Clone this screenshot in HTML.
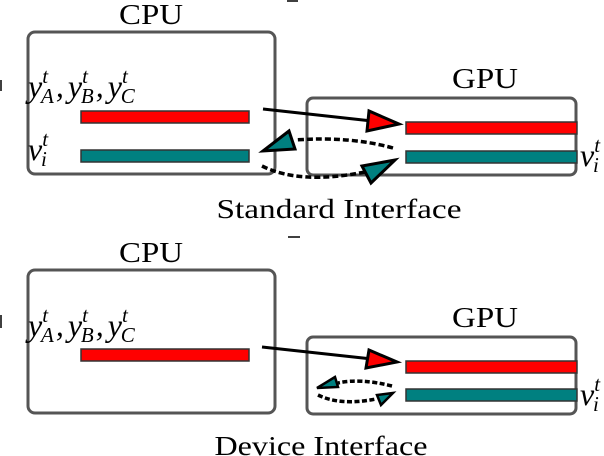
<!DOCTYPE html>
<html><head><meta charset="utf-8"><style>
html,body{margin:0;padding:0;background:#fff;width:604px;height:456px;overflow:hidden}
svg{display:block}
text{font-family:"Liberation Serif",serif;fill:#000}
.m{font-style:italic}
</style></head><body>
<svg width="604" height="456" viewBox="0 0 604 456" xmlns="http://www.w3.org/2000/svg">
<line x1="287" y1="1" x2="298" y2="1" stroke="#000" stroke-width="1.5"/>
<line x1="288" y1="237" x2="300" y2="237" stroke="#000" stroke-width="1.5"/>
<line x1="1" y1="80" x2="1" y2="91" stroke="#000" stroke-width="1.5"/>
<line x1="1" y1="315" x2="1" y2="328" stroke="#000" stroke-width="1.5"/>

<!-- TOP -->
<text x="151" y="24" font-size="28" text-anchor="middle" textLength="64" lengthAdjust="spacingAndGlyphs">CPU</text>
<rect x="28" y="32" width="247" height="142" rx="7" fill="none" stroke="#555" stroke-width="3"/>
<text x="485" y="88" font-size="28" text-anchor="middle" textLength="66" lengthAdjust="spacingAndGlyphs">GPU</text>
<rect x="307" y="98" width="269" height="77" rx="6" fill="none" stroke="#555" stroke-width="3"/>
<text class="m" x="28" y="97" font-size="32">y<tspan font-size="21" dy="-14">t</tspan><tspan font-size="21" dx="-7" dy="20">A</tspan><tspan dx="2" dy="-6">,</tspan><tspan dx="4">y</tspan><tspan font-size="21" dy="-14">t</tspan><tspan font-size="21" dx="-7" dy="20">B</tspan><tspan dx="2" dy="-6">,</tspan><tspan dx="4">y</tspan><tspan font-size="21" dy="-14">t</tspan><tspan font-size="21" dx="-7" dy="20">C</tspan></text>
<text class="m" x="28" y="160" font-size="32">v<tspan font-size="21" dy="-14">t</tspan><tspan font-size="21" dx="-7" dy="20">i</tspan></text>
<text class="m" x="580" y="166" font-size="32">v<tspan font-size="21" dy="-14">t</tspan><tspan font-size="21" dx="-7" dy="20">i</tspan></text>
<rect x="81" y="111" width="168" height="12" fill="#f00" stroke="#333" stroke-width="1.5"/>
<rect x="81" y="150" width="168" height="12" fill="#008080" stroke="#333" stroke-width="1.5"/>
<rect x="406" y="122" width="171" height="12" fill="#f00" stroke="#333" stroke-width="1.5"/>
<rect x="406" y="151" width="171" height="12" fill="#008080" stroke="#333" stroke-width="1.5"/>
<line x1="263" y1="109" x2="372" y2="121" stroke="#000" stroke-width="3"/>
<polygon points="369,111 367,131 399,124" fill="#f00" stroke="#000" stroke-width="3"/>
<path d="M393,148 Q350,136 295,140" fill="none" stroke="#000" stroke-width="3.5" stroke-dasharray="6,3"/>
<polygon points="289,131 263,151 295,149" fill="#008080" stroke="#000" stroke-width="3"/>
<path d="M262,166 Q300,185 365,172" fill="none" stroke="#000" stroke-width="3.5" stroke-dasharray="6,3"/>
<polygon points="362,166 371,183 395,160" fill="#008080" stroke="#000" stroke-width="3"/>
<text x="339" y="218" font-size="27" text-anchor="middle" textLength="245" lengthAdjust="spacingAndGlyphs">Standard Interface</text>

<!-- BOTTOM -->
<text x="151" y="262" font-size="28" text-anchor="middle" textLength="64" lengthAdjust="spacingAndGlyphs">CPU</text>
<rect x="28" y="270" width="247" height="143" rx="7" fill="none" stroke="#555" stroke-width="3"/>
<text x="485" y="327" font-size="28" text-anchor="middle" textLength="66" lengthAdjust="spacingAndGlyphs">GPU</text>
<rect x="307" y="337" width="269" height="77" rx="6" fill="none" stroke="#555" stroke-width="3"/>
<text class="m" x="28" y="336" font-size="32">y<tspan font-size="21" dy="-14">t</tspan><tspan font-size="21" dx="-7" dy="20">A</tspan><tspan dx="2" dy="-6">,</tspan><tspan dx="4">y</tspan><tspan font-size="21" dy="-14">t</tspan><tspan font-size="21" dx="-7" dy="20">B</tspan><tspan dx="2" dy="-6">,</tspan><tspan dx="4">y</tspan><tspan font-size="21" dy="-14">t</tspan><tspan font-size="21" dx="-7" dy="20">C</tspan></text>
<text class="m" x="580" y="405" font-size="32">v<tspan font-size="21" dy="-14">t</tspan><tspan font-size="21" dx="-7" dy="20">i</tspan></text>
<rect x="81" y="349" width="168" height="12" fill="#f00" stroke="#333" stroke-width="1.5"/>
<rect x="406" y="361" width="171" height="12" fill="#f00" stroke="#333" stroke-width="1.5"/>
<rect x="406" y="389" width="171" height="12" fill="#008080" stroke="#333" stroke-width="1.5"/>
<line x1="262" y1="347" x2="372" y2="359" stroke="#000" stroke-width="3"/>
<polygon points="369,350 366,368 397,362" fill="#f00" stroke="#000" stroke-width="3"/>
<path d="M392,386 Q360,378 338,383" fill="none" stroke="#000" stroke-width="3.5" stroke-dasharray="5,2.5"/>
<polygon points="335,377 317,388 338,387" fill="#008080" stroke="#000" stroke-width="2.5"/>
<path d="M318,395 Q340,406 376,399" fill="none" stroke="#000" stroke-width="3.5" stroke-dasharray="5,2.5"/>
<polygon points="377,395 381,405 393,393" fill="#008080" stroke="#000" stroke-width="2.5"/>
<text x="321" y="455" font-size="27" text-anchor="middle" textLength="213" lengthAdjust="spacingAndGlyphs">Device Interface</text>
</svg>
</body></html>
